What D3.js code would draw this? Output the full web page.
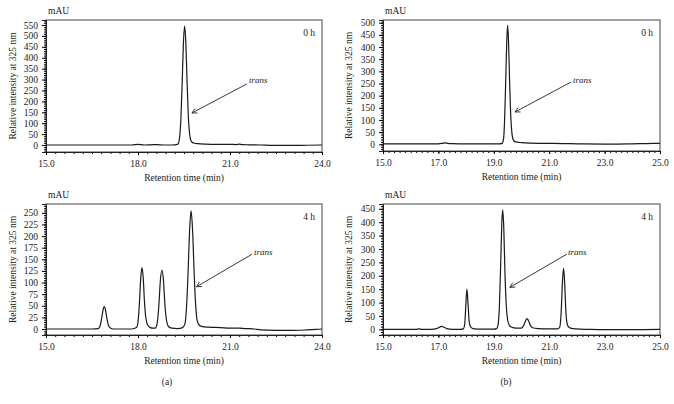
<!DOCTYPE html>
<html><head><meta charset="utf-8">
<script src="https://cdn.jsdelivr.net/npm/d3@7"></script>
<style>
body{margin:0;background:#fff;}
svg text{font-family:"Liberation Serif","DejaVu Serif",serif;fill:#222;}
</style></head><body>
<svg id="c" width="674" height="404"></svg>
<script>
// ---- data (retention time in min, signal in mAU) ----
const a0Time = [15,16,17,17.8,18.0,18.2,18.4,18.55,18.7,19.0,19.2,19.3,19.35,19.40,19.44,19.48,19.52,19.56,19.60,19.64,19.68,19.72,19.78,19.85,19.95,20.2,20.6,21.0,21.2,21.3,21.4,21.6,22.0,22.4,23.0,23.5,24.0];
const a0Signal = [0,0,0,0,3,0,1,2,1,0,1,4,28,125,283,463,545,470,290,135,55,22,11,8,6,4,3,3,2,4,2,1,0,-2,-2,-1,0];

const b0Time = [15,16,17.0,17.15,17.25,17.35,17.5,18,18.5,19.0,19.2,19.3,19.35,19.39,19.43,19.47,19.50,19.53,19.57,19.61,19.65,19.69,19.75,19.85,20.0,20.3,20.8,21.5,22.0,23.0,23.5,24.0,24.5,25.0];
const b0Signal = [2,2,2,4,6,4,3,2,2,2,2,4,20,100,260,430,490,430,260,120,50,22,12,9,7,5,4,3,2,1,1,2,3,4];

const a4Time = [15,16,16.5,16.7,16.76,16.82,16.86,16.90,16.94,16.98,17.04,17.1,17.2,17.5,17.8,17.95,18.0,18.05,18.09,18.13,18.17,18.21,18.26,18.32,18.4,18.48,18.56,18.62,18.68,18.73,18.78,18.83,18.88,18.94,19.0,19.1,19.3,19.45,19.53,19.58,19.63,19.68,19.73,19.78,19.83,19.88,19.93,20.0,20.1,20.3,20.7,21.0,21.3,21.5,21.8,22.0,22.5,23.0,23.5,23.8,24.0];
const a4Signal = [0,0,0,1,6,25,41,48,41,25,7,2,0,0,0,3,15,60,110,132,110,60,22,8,3,2,2,10,50,105,127,105,50,15,5,2,1,3,11,44,116,209,254,212,122,52,18,8,5,4,3,2,2,1,0,-2,-3,-3,-2,-1,0];

const b4Time = [15,16.0,16.2,16.3,16.4,16.6,16.9,17.0,17.1,17.2,17.3,17.5,17.8,17.90,17.95,17.99,18.03,18.07,18.11,18.16,18.22,18.3,18.6,19.0,19.1,19.15,19.20,19.25,19.29,19.32,19.36,19.40,19.45,19.50,19.56,19.65,19.8,20.0,20.08,20.15,20.2,20.25,20.32,20.4,20.6,21.0,21.3,21.38,21.43,21.48,21.52,21.56,21.60,21.65,21.72,21.85,22.0,22.5,23.0,24.0,25.0];
const b4Signal = [0,0,0,2,0,0,2,6,11,8,3,0,0,2,20,90,150,95,30,10,4,2,1,1,3,15,80,250,400,446,380,220,90,35,15,8,5,5,15,33,40,33,15,6,3,2,2,8,60,180,228,170,70,20,7,3,2,0,-1,-1,0];

// ---- axis ticks / labels ----
const xTicksA = [15,18,21,24];
const xTickLabelsA = ["15.0","18.0","21.0","24.0"];
const xTicksB = [15,17,19,21,23,25];
const xTickLabelsB = ["15.0","17.0","19.0","21.0","23.0","25.0"];
const yTicksA0 = [0,50,100,150,200,250,300,350,400,450,500,550];
const yTicksB0 = [0,50,100,150,200,250,300,350,400,450,500];
const yTicksA4 = [0,25,50,75,100,125,150,175,200,225,250];
const yTicksB4 = [0,50,100,150,200,250,300,350,400,450];

// annotation "trans": text anchor and arrow tip, in data units
const annoA0 = {textT:21.62, textV:284, fromT:21.55, fromV:280, tipT:19.76, tipV:147};
const annoB0 = {textT:21.86, textV:252, fromT:21.79, fromV:256, tipT:19.77, tipV:133};
const annoA4 = {textT:21.78, textV:159, fromT:21.72, fromV:161, tipT:19.91, tipV:91};
const annoB4 = {textT:21.68, textV:276, fromT:21.64, fromV:281, tipT:19.58, tipV:157};

const svg = d3.select("#c");
svg.append("defs").append("marker")
  .attr("id","ah").attr("viewBox","-8 -5 10 10").attr("refX",0).attr("refY",0)
  .attr("markerWidth",8).attr("markerHeight",8).attr("markerUnits","userSpaceOnUse")
  .attr("orient","auto")
  .append("path").attr("d","M-6,-3.2 L0,0 L-6,3.2").attr("fill","none").attr("stroke","#222").attr("stroke-width",1);

const panels = [
  {t:a0Time, v:a0Signal, x0:46, x1:322, yt:20, yb:152, xd:[15,24], yd:[-32,573], yTicks:yTicksA0, yMinor:10,
   xTicks:xTicksA, xLabels:xTickLabelsA, xMinor:0.3, tag:"0 h", anno:annoA0, ylx:33},
  {t:b0Time, v:b0Signal, x0:383, x1:660, yt:20, yb:151, xd:[15,25], yd:[-27.5,511], yTicks:yTicksB0, yMinor:10,
   xTicks:xTicksB, xLabels:xTickLabelsB, xMinor:0.2, tag:"0 h", anno:annoB0, ylx:34},
  {t:a4Time, v:a4Signal, x0:46, x1:322, yt:204, yb:335, xd:[15,24], yd:[-12.9,269], yTicks:yTicksA4, yMinor:5,
   xTicks:xTicksA, xLabels:xTickLabelsA, xMinor:0.3, tag:"4 h", anno:annoA4, ylx:33},
  {t:b4Time, v:b4Signal, x0:383, x1:660, yt:204, yb:335, xd:[15,25], yd:[-21,468], yTicks:yTicksB4, yMinor:10,
   xTicks:xTicksB, xLabels:xTickLabelsB, xMinor:0.2, tag:"4 h", anno:annoB4, ylx:34}
];

panels.forEach(p => {
  const x = d3.scaleLinear().domain(p.xd).range([p.x0, p.x1]);
  const y = d3.scaleLinear().domain(p.yd).range([p.yb, p.yt]);
  const g = svg.append("g");

  g.append("rect").attr("x",p.x0).attr("y",p.yt).attr("width",p.x1-p.x0).attr("height",p.yb-p.yt)
    .attr("fill","none").attr("stroke","#444").attr("stroke-width",1);

  const yMin = d3.range(Math.ceil(p.yd[0]/p.yMinor)*p.yMinor, p.yd[1], p.yMinor);
  g.append("g").attr("transform",`translate(${p.x0},0)`)
    .call(d3.axisLeft(y).tickValues(yMin).tickSize(2).tickFormat(""))
    .call(a=>a.select(".domain").remove());
  g.append("g").attr("transform",`translate(${p.x0},0)`)
    .call(d3.axisLeft(y).tickValues(p.yTicks).tickSize(4).tickPadding(4).tickFormat(d3.format("d")))
    .call(a=>a.select(".domain").attr("stroke","#222"))
    .call(a=>a.selectAll("text").attr("font-size",9.5).attr("font-family","Liberation Serif"));

  const xMin = d3.range(p.xd[0], p.xd[1]+1e-6, p.xMinor);
  g.append("g").attr("transform",`translate(0,${p.yb})`)
    .call(d3.axisBottom(x).tickValues(xMin).tickSize(2).tickFormat(""))
    .call(a=>a.select(".domain").remove());
  g.append("g").attr("transform",`translate(0,${p.yb})`)
    .call(d3.axisBottom(x).tickValues(p.xTicks).tickSize(3).tickPadding(5).tickFormat((d,i)=>p.xLabels[i]))
    .call(a=>a.select(".domain").attr("stroke","#222"))
    .call(a=>a.selectAll("text").attr("font-size",9.5).attr("font-family","Liberation Serif"));

  const line = d3.line().x((d,i)=>x(p.t[i])).y(d=>y(d)).curve(d3.curveMonotoneX);
  g.append("path").datum(p.v).attr("d",line).attr("fill","none").attr("stroke","#1a1a1a").attr("stroke-width",1.2);

  g.append("text").attr("x",p.x0+2).attr("y",p.yt-6).attr("font-size",9.5).text("mAU");
  g.append("text").attr("x",p.x1-7).attr("y",p.yt+16).attr("text-anchor","end").attr("font-size",9.5).text(p.tag);
  g.append("text").attr("transform",`translate(${p.x0-p.ylx},${(p.yt+p.yb)/2}) rotate(-90)`)
    .attr("text-anchor","middle").attr("dy","0.35em").attr("font-size",9.5).text("Relative intensity at 325 nm");
  g.append("text").attr("x",(p.x0+p.x1)/2).attr("y",p.yb+29).attr("text-anchor","middle").attr("font-size",9.5)
    .text("Retention time (min)");

  const an = p.anno;
  g.append("line").attr("x1",x(an.fromT)).attr("y1",y(an.fromV)).attr("x2",x(an.tipT)).attr("y2",y(an.tipV))
    .attr("stroke","#222").attr("stroke-width",0.9).attr("marker-end","url(#ah)");
  g.append("text").attr("x",x(an.textT)).attr("y",y(an.textV)).attr("font-size",9).attr("font-style","italic").text("trans");
});

svg.append("text").attr("x",167).attr("y",385).attr("text-anchor","middle").attr("font-size",9.5).text("(a)");
svg.append("text").attr("x",506).attr("y",385).attr("text-anchor","middle").attr("font-size",9.5).text("(b)");
</script>
</body></html>
